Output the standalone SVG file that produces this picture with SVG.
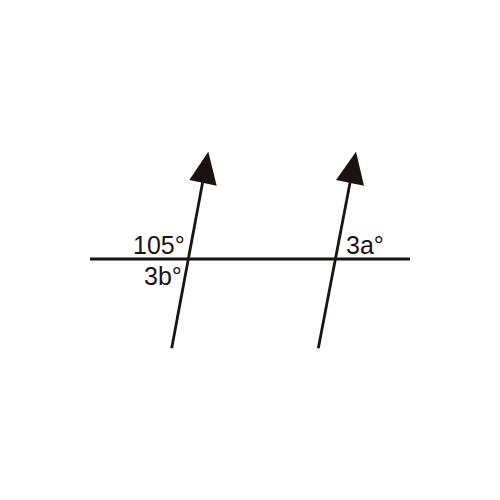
<svg xmlns="http://www.w3.org/2000/svg" width="500" height="500" viewBox="0 0 500 500">
<style>
.ln{stroke:#1a1311;stroke-width:2.8;fill:none}
.hd{fill:#1a1311}
.lb{font-family:"Liberation Sans",Arial,sans-serif;font-size:25px;fill:#1a1311}
</style>
<rect width="500" height="500" fill="#fff"/>
<g id="connectors">
<line class="ln" x1="90" y1="259" x2="410" y2="259"/>
<line class="ln" x1="171.7" y1="348.3" x2="204" y2="175"/>
<polygon class="hd" points="208.3,151.7 189.3,180 216.7,185.7"/>
<line class="ln" x1="318.3" y1="348.3" x2="351.5" y2="175"/>
<polygon class="hd" points="356,151.7 336,180 364,185.7"/>
</g>
<g id="labels">
<text class="lb" x="133" y="254">105°</text>
<text class="lb" x="144" y="285">3b°</text>
<text class="lb" x="346" y="254">3a°</text>
</g>
</svg>
